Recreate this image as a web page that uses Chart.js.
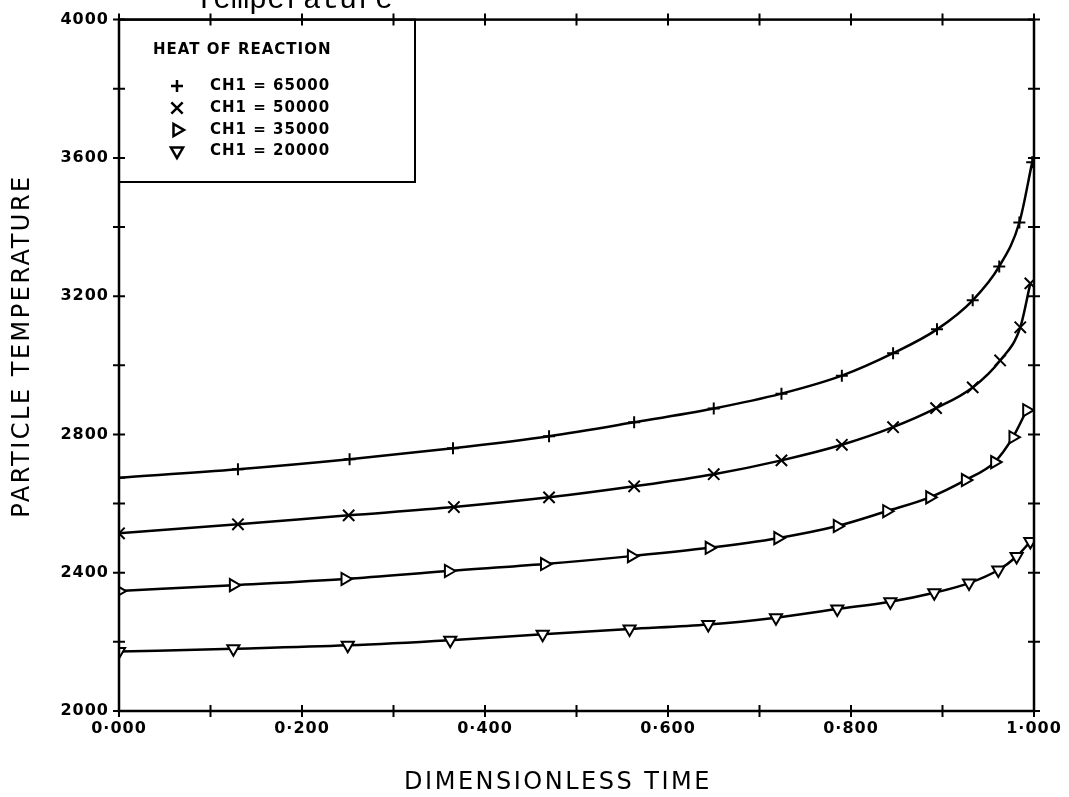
<!DOCTYPE html>
<html>
<head>
<meta charset="utf-8">
<script src="https://cdn.jsdelivr.net/npm/chart.js@4/dist/chart.umd.min.js"></script>
<style>
  html, body { margin: 0; padding: 0; background: #fff; }
</style>
</head>
<body>
<canvas id="tempChart" width="1069" height="797"></canvas>
<script>
// series names (legend entries)
const seriesLabels = ['CH1 = 65000', 'CH1 = 50000', 'CH1 = 35000', 'CH1 = 20000'];

// dimensionless time at each plotted marker, one list per series
const time65 = [0, 0.130, 0.252, 0.365, 0.470, 0.563, 0.650, 0.724, 0.790, 0.846, 0.894, 0.933, 0.962, 0.984, 0.998];
const time50 = [0, 0.130, 0.251, 0.366, 0.470, 0.563, 0.650, 0.724, 0.790, 0.846, 0.893, 0.933, 0.963, 0.985, 0.996];
const time35 = [0, 0.125, 0.247, 0.360, 0.465, 0.560, 0.645, 0.720, 0.785, 0.839, 0.886, 0.925, 0.957, 0.977, 0.992];
const time20 = [0, 0.125, 0.250, 0.362, 0.463, 0.558, 0.644, 0.718, 0.785, 0.843, 0.891, 0.929, 0.961, 0.981, 0.996];

// particle temperature
const temp65 = [2675, 2699, 2728, 2760, 2795, 2835, 2875, 2918, 2970, 3035, 3104, 3188, 3286, 3413, 3587];
const temp50 = [2514, 2540, 2566, 2590, 2618, 2650, 2685, 2725, 2770, 2821, 2876, 2936, 3014, 3110, 3237];
const temp35 = [2347, 2364, 2382, 2405, 2425, 2448, 2472, 2500, 2535, 2578, 2618, 2668, 2720, 2792, 2870];
const temp20 = [2172, 2180, 2190, 2205, 2222, 2237, 2250, 2270, 2295, 2316, 2342, 2370, 2408, 2447, 2490];

// axis ticks
const xTickLabels = [0, 0.2, 0.4, 0.6, 0.8, 1.0];
const yTickLabels = [2000, 2400, 2800, 3200, 3600, 4000];

const plotFont = "'DejaVu Sans', sans-serif";

function pairUp(xs, ys) {
    return xs.map((x, i) => ({ x: x, y: ys[i] }));
}

const markerStyles = [
    { pointStyle: 'cross', rotation: 0, radius: 6 },
    { pointStyle: 'crossRot', rotation: 0, radius: 8 },
    { pointStyle: 'triangle', rotation: 90, radius: 7 },
    { pointStyle: 'triangle', rotation: 180, radius: 7 }
];

const allSeries = [
    pairUp(time65, temp65),
    pairUp(time50, temp50),
    pairUp(time35, temp35),
    pairUp(time20, temp20)
];

const datasets = allSeries.map((pts, i) => ({
    label: seriesLabels[i],
    data: pts,
    showLine: true,
    borderColor: '#000',
    borderWidth: 2.5,
    backgroundColor: '#fff',
    cubicInterpolationMode: 'monotone',
    pointStyle: markerStyles[i].pointStyle,
    rotation: markerStyles[i].rotation,
    pointRadius: markerStyles[i].radius,
    pointBorderWidth: 2,
    pointBorderColor: '#000',
    pointBackgroundColor: '#fff'
}));

// frame with ticks crossing all four sides, titles and the boxed legend
const plotterPlugin = {
    id: 'plotter',
    afterDraw(chart) {
        const ctx = chart.ctx;
        const area = chart.chartArea;
        const xs = chart.scales.x;
        const ys = chart.scales.y;
        ctx.save();
        ctx.strokeStyle = '#000';
        ctx.lineWidth = 2.5;
        ctx.strokeRect(area.left, area.top, area.right - area.left, area.bottom - area.top);

        ctx.lineWidth = 2;
        const half = 6;
        xs.ticks.forEach(t => {
            const px = xs.getPixelForValue(t.value);
            ctx.beginPath();
            ctx.moveTo(px, area.bottom - half); ctx.lineTo(px, area.bottom + half);
            ctx.moveTo(px, area.top - half); ctx.lineTo(px, area.top + half);
            ctx.stroke();
        });
        ys.ticks.forEach(t => {
            const py = ys.getPixelForValue(t.value);
            ctx.beginPath();
            ctx.moveTo(area.left - half, py); ctx.lineTo(area.left + half, py);
            ctx.moveTo(area.right - half, py); ctx.lineTo(area.right + half, py);
            ctx.stroke();
        });

        // clipped title at the very top
        ctx.fillStyle = '#000';
        ctx.letterSpacing = '0px';
        ctx.font = "30px 'Liberation Mono', monospace";
        ctx.textAlign = 'left';
        ctx.textBaseline = 'alphabetic';
        ctx.fillText('Temperature', 195, 8);

        // axis titles
        ctx.letterSpacing = '2.5px';
        ctx.font = '24px ' + plotFont;
        ctx.textAlign = 'center';
        ctx.textBaseline = 'middle';
        ctx.fillText('DIMENSIONLESS TIME', 558, 783);
        ctx.save();
        ctx.translate(23, 346);
        ctx.rotate(-Math.PI / 2);
        ctx.fillText('PARTICLE TEMPERATURE', 0, 0);
        ctx.restore();

        // legend box
        const boxRight = 415, boxBottom = 182;
        ctx.lineWidth = 2;
        ctx.strokeRect(area.left, area.top, boxRight - area.left, boxBottom - area.top);
        ctx.textAlign = 'left';
        ctx.letterSpacing = '1px';
        ctx.font = 'bold 15px ' + plotFont;
        ctx.fillText('HEAT OF REACTION', 153, 50);
        ctx.font = 'bold 15px ' + plotFont;
        const rowY = [86, 108, 130, 151];
        seriesLabels.forEach((lab, i) => {
            ctx.strokeStyle = '#000';
            ctx.fillStyle = '#fff';
            ctx.lineWidth = 2.5;
            Chart.helpers.drawPoint(ctx, {
                pointStyle: markerStyles[i].pointStyle,
                rotation: markerStyles[i].rotation,
                radius: markerStyles[i].radius,
                borderWidth: 2.5
            }, 177, rowY[i]);
            ctx.fillStyle = '#000';
            ctx.fillText(lab, 210, rowY[i]);
        });
        ctx.restore();
    }
};

new Chart(document.getElementById('tempChart'), {
    type: 'scatter',
    data: { datasets: datasets },
    options: {
        responsive: false,
        animation: false,
        layout: { padding: { top: 19, right: 35, left: 0, bottom: 0 } },
        plugins: {
            legend: { display: false },
            tooltip: { enabled: false }
        },
        scales: {
            x: {
                type: 'linear',
                min: 0,
                max: 1,
                grid: { display: false, drawTicks: false },
                border: { display: false },
                afterFit(scale) { scale.height = 86; },
                ticks: {
                    stepSize: 0.1,
                    autoSkip: false,
                    maxRotation: 0,
                    padding: 8,
                    color: '#000',
                    font: { family: plotFont, size: 16, weight: 'bold' },
                    callback(v) {
                        const hit = xTickLabels.find(l => Math.abs(l - v) < 1e-6);
                        return hit === undefined ? '' : hit.toFixed(3).replace('.', '·');
                    }
                }
            },
            y: {
                min: 2000,
                max: 4000,
                grid: { display: false, drawTicks: false },
                border: { display: false },
                afterFit(scale) { scale.width = 119; },
                ticks: {
                    stepSize: 200,
                    autoSkip: false,
                    padding: 10,
                    color: '#000',
                    font: { family: plotFont, size: 16, weight: 'bold' },
                    callback(v) {
                        return yTickLabels.includes(v) ? String(v) : '';
                    }
                }
            }
        }
    },
    plugins: [plotterPlugin, {
        id: 'whiteBg',
        beforeDraw(chart) {
            const c = chart.ctx;
            c.save();
            c.fillStyle = '#fff';
            c.fillRect(0, 0, chart.width, chart.height);
            c.restore();
            // slightly wider plotter-like lettering for the tick labels
            c.letterSpacing = '1px';
        }
    }]
});
</script>
</body>
</html>
